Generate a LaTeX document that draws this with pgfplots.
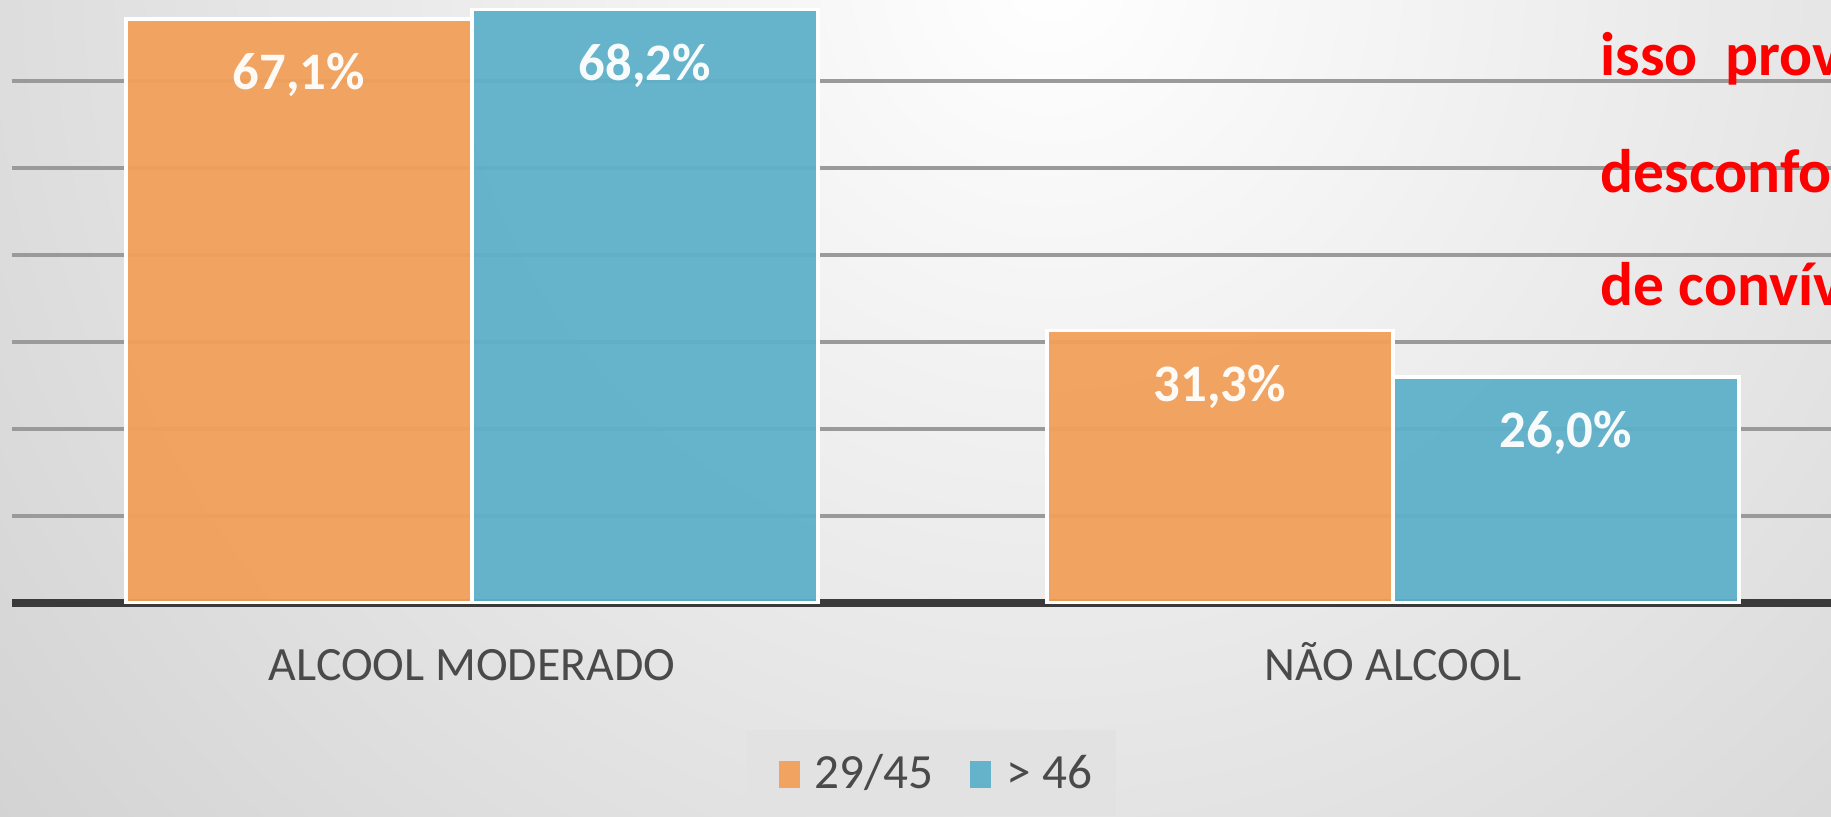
\documentclass[border=0pt]{standalone}
\usepackage{fontspec}
\setmainfont{Carlito}
\usepackage{pgfplots}
\pgfplotsset{compat=1.18}

\definecolor{barorange}{HTML}{F2A05B}
\definecolor{barblue}{HTML}{5EB1CA}
\definecolor{bgout}{HTML}{C6C6C6}
\definecolor{legendbg}{HTML}{E2E2E2}
\definecolor{gridgray}{HTML}{9A9A9A}
\definecolor{axisdark}{HTML}{3A3A3A}
\definecolor{labelgray}{HTML}{4A4A4A}

\begin{document}
\begin{tikzpicture}[x=1mm,y=1mm]
\useasboundingbox (0,0) rectangle (183.1,81.6);
\clip (0,0) rectangle (183.1,81.6);
% background
\fill[bgout] (0,0) rectangle (183.1,81.6);
\shade[inner color=white, outer color=bgout] (105,84) circle (175);
\fill[legendbg] (74.7,0) rectangle (111.6,8.6);

\begin{axis}[
  at={(1.2mm,21.3mm)}, anchor=south west,
  scale only axis, width=181.9mm, height=60.3mm,
  xmin=-0.4995, xmax=1.4756, ymin=0, ymax=69.3,
  ybar=0pt, bar width=34.6mm,
  axis x line=bottom, axis y line*=left,
  x axis line style={-, draw=axisdark, line width=2.3pt},
  y axis line style={draw=none},
  xtick={0,1}, xticklabels={ALCOOL MODERADO, NÃO ALCOOL},
  major tick length=0pt,
  xticklabel style={anchor=base, yshift=-7.7mm, text=labelgray,
    font=\fontsize{13.6}{14}\selectfont},
  ytick={10,20,30,40,50,60}, yticklabels={}, ymajorgrids,
  grid style={draw=gridgray, line width=1.3pt},
  nodes near coords, point meta=explicit symbolic,
  every node near coord/.append style={anchor=center, yshift=-5.6mm,
    text=white, font=\bfseries\fontsize{15}{15}\selectfont},
  legend columns=2,
  legend style={at={(0.5095,-0.2836)}, anchor=center, draw=none, fill=none,
    font=\fontsize{14}{15}\selectfont, text=labelgray,
    /tikz/every even column/.append style={column sep=3.0mm},
    /tikz/every odd column/.append style={column sep=0.8mm}},
  legend image code/.code={\path[#1, draw=none] (0mm,-1.35mm) rectangle (2.1mm,1.35mm);},
]
\addplot[fill=barorange, draw=white, line width=1pt, fill opacity=0.95] coordinates {
  (0,67.1) [67,1\%]
  (1,31.3) [31,3\%]
};
\addlegendentry{29/45}
\addplot[fill=barblue, draw=white, line width=1pt, fill opacity=0.95] coordinates {
  (0,68.2) [68,2\%]
  (1,26.0) [26,0\%]
};
\addlegendentry{> 46}
\end{axis}

% red annotation, cut at the right edge as in the source
\begin{scope}[every node/.style={anchor=base west, inner sep=0pt, text=red,
    font=\bfseries\fontsize{17.5}{18}\selectfont}]
\node at (160.0,74.1) {isso~~provoca};
\node at (160.0,62.4) {desconforto};
\node at (160.0,51.1) {de convívio};
\end{scope}
\end{tikzpicture}
\end{document}
